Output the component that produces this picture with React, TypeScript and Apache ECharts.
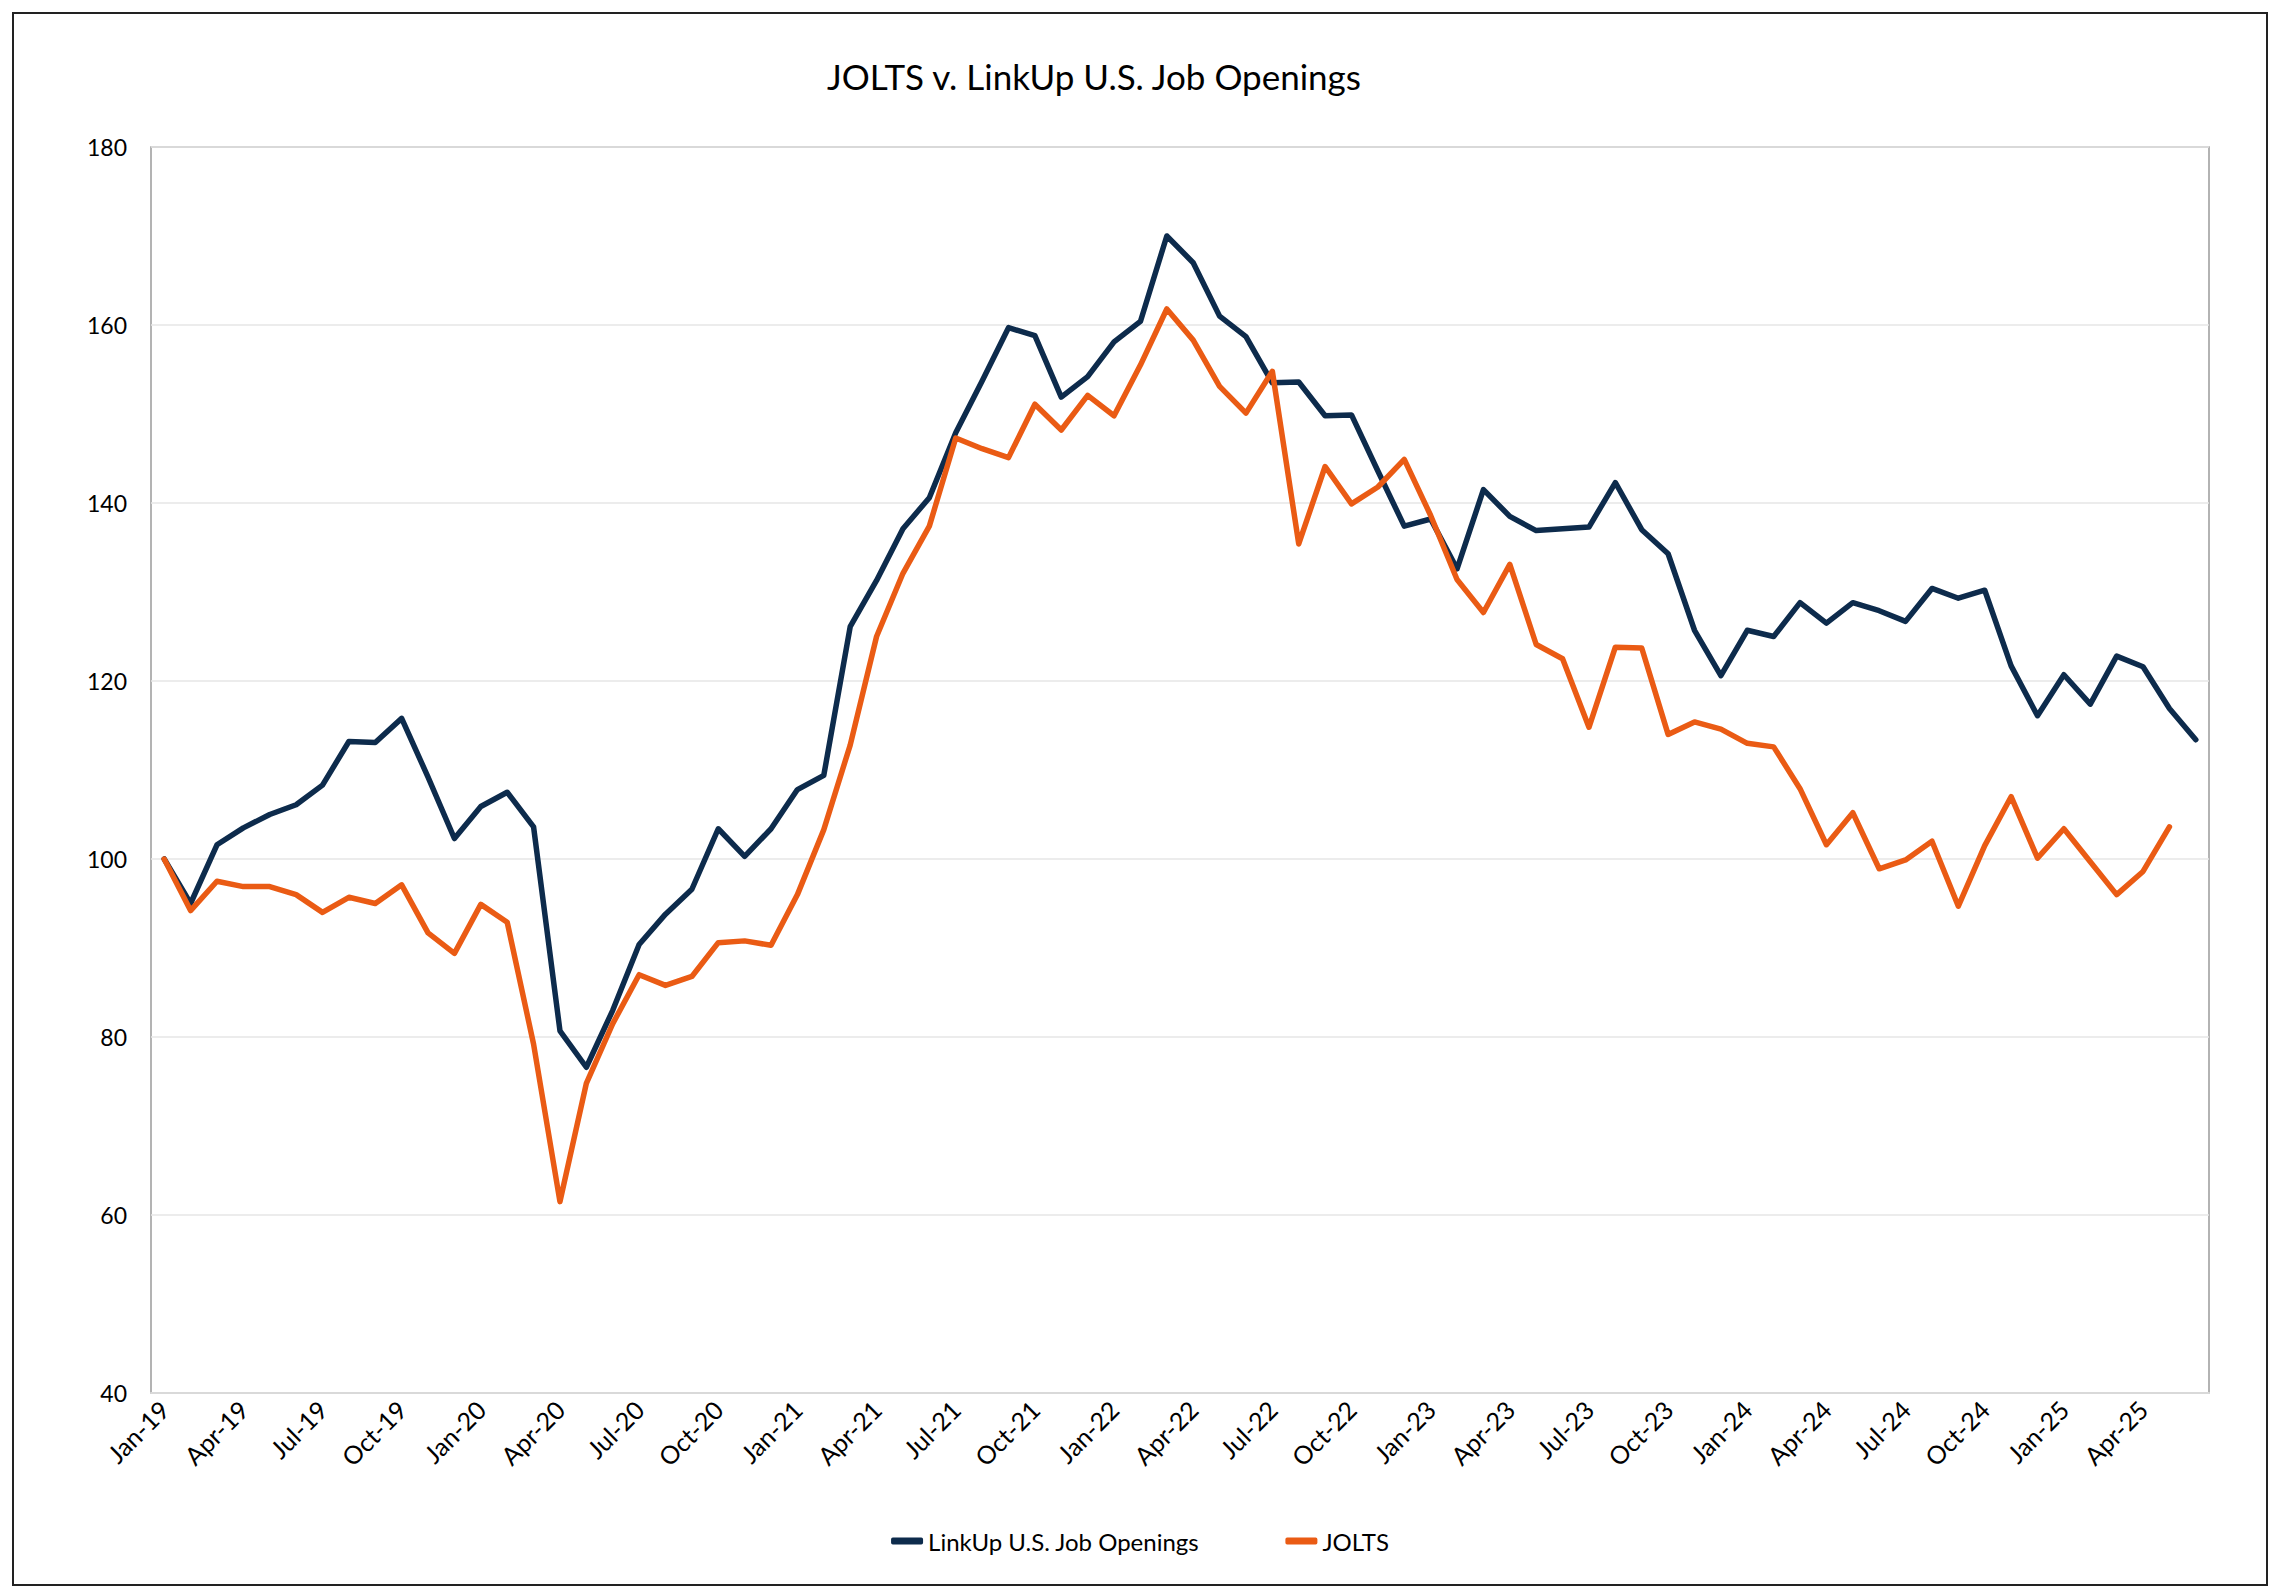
import React, { useEffect, useRef } from "react";
import * as echarts from "echarts";

const months = ["Jan", "Feb", "Mar", "Apr", "May", "Jun", "Jul", "Aug", "Sep", "Oct", "Nov", "Dec"];
const years = ["19", "20", "21", "22", "23", "24", "25"];
const categories: string[] = [];
for (const y of years) {
  for (const m of months) {
    if (y === "25" && months.indexOf(m) > 5) break;
    categories.push(`${m}-${y}`);
  }
}

const linkupValues = [
  100, 95.0, 101.6, 103.5, 105.0, 106.1, 108.3, 113.2, 113.1, 115.8, 109.2, 102.3,
  105.9, 107.5, 103.6, 80.7, 76.6, 83.0, 90.4, 93.8, 96.6, 103.4, 100.3, 103.4,
  107.8, 109.4, 126.1, 131.3, 137.1, 140.6, 147.9, 153.7, 159.7, 158.8, 151.9, 154.2,
  158.1, 160.4, 170.0, 167.0, 161.0, 158.7, 153.5, 153.6, 149.8, 149.9, 143.6, 137.4,
  138.2, 132.6, 141.5, 138.5, 136.9, 137.1, 137.3, 142.3, 137.0, 134.3, 125.7, 120.6,
  125.7, 125.0, 128.8, 126.5, 128.8, 127.9, 126.7, 130.4, 129.3, 130.2, 121.7, 116.1,
  120.7, 117.4, 122.8, 121.6, 116.9, 113.4,
];

const joltsValues = [
  100, 94.2, 97.5, 96.9, 96.9, 96.0, 94.0, 95.7, 95.0, 97.1, 91.7, 89.4,
  94.9, 92.9, 79.2, 61.5, 74.8, 81.5, 87.0, 85.8, 86.8, 90.6, 90.8, 90.3,
  96.0, 103.3, 112.8, 125.0, 132.1, 137.4, 147.3, 146.1, 145.1, 151.1, 148.2, 152.1,
  149.8, 155.5, 161.8, 158.3, 153.1, 150.1, 154.8, 135.4, 144.1, 139.9, 141.8, 144.9,
  138.6, 131.4, 127.7, 133.1, 124.1, 122.5, 114.8, 123.8, 123.7, 114.0, 115.4, 114.6,
  113.0, 112.6, 107.9, 101.6, 105.2, 98.9, 99.9, 102.0, 94.7, 101.5, 107.0, 100.1,
  103.4, 99.7, 96.0, 98.6, 103.6,
];

const seriesNames = ["LinkUp U.S. Job Openings", "JOLTS"];
const titleText = "JOLTS v. LinkUp U.S. Job Openings";

const FONT = "Lato, 'Open Sans', sans-serif";

export default function App() {
  const ref = useRef<HTMLDivElement>(null);

  useEffect(() => {
    document.body.style.margin = "0";
    if (!ref.current) return;
    const chart = echarts.init(ref.current, null, { renderer: "svg" });
    chart.setOption({
      animation: false,
      backgroundColor: "#ffffff",
      textStyle: { fontFamily: FONT },
      title: {
        text: titleText,
        left: 1089,
        top: 53,
        textAlign: "center",
        textStyle: { fontFamily: FONT, fontSize: 35, fontWeight: "normal", color: "#000" },
      },
      graphic: [
        {
          type: "rect",
          shape: { x: 13, y: 13, width: 2254, height: 1572 },
          style: { fill: "none", stroke: "#222", lineWidth: 2 },
          silent: true,
        },
      ],
      legend: {
        data: seriesNames,
        left: "center",
        top: 1524,
        icon: "roundRect",
        itemWidth: 32,
        itemHeight: 7,
        itemGap: 86,
        textStyle: { fontFamily: FONT, fontSize: 24, color: "#000" },
      },
      grid: {
        left: 151,
        right: 71,
        top: 147,
        bottom: 201,
        show: true,
        borderColor: "#9a9a9a",
        borderWidth: 1.5,
        containLabel: false,
      },
      xAxis: {
        type: "category",
        data: categories,
        boundaryGap: true,
        axisTick: { show: false },
        axisLine: { show: true, lineStyle: { color: "#d9d9d9", width: 2 } },
        axisLabel: {
          interval: 2,
          rotate: 45,
          margin: 12,
          fontFamily: FONT,
          fontSize: 25,
          color: "#000",
        },
        splitLine: { show: false },
      },
      yAxis: {
        type: "value",
        min: 40,
        max: 180,
        interval: 20,
        axisLine: { show: false },
        axisTick: { show: false },
        axisLabel: { margin: 24, fontFamily: FONT, fontSize: 23, color: "#000" },
        splitLine: { show: true, lineStyle: { color: "#e6e6e6", width: 1.5 } },
      },
      series: [
        {
          name: seriesNames[0],
          type: "line",
          data: linkupValues,
          symbol: "none",
          lineStyle: { color: "#0d2b4c", width: 5.5, join: "round", cap: "round" },
          itemStyle: { color: "#0d2b4c" },
        },
        {
          name: seriesNames[1],
          type: "line",
          data: joltsValues,
          symbol: "none",
          lineStyle: { color: "#ea5b14", width: 5.5, join: "round", cap: "round" },
          itemStyle: { color: "#ea5b14" },
        },
      ],
    });
    return () => chart.dispose();
  }, []);

  return <div ref={ref} style={{ width: 2280, height: 1594 }} />;
}
